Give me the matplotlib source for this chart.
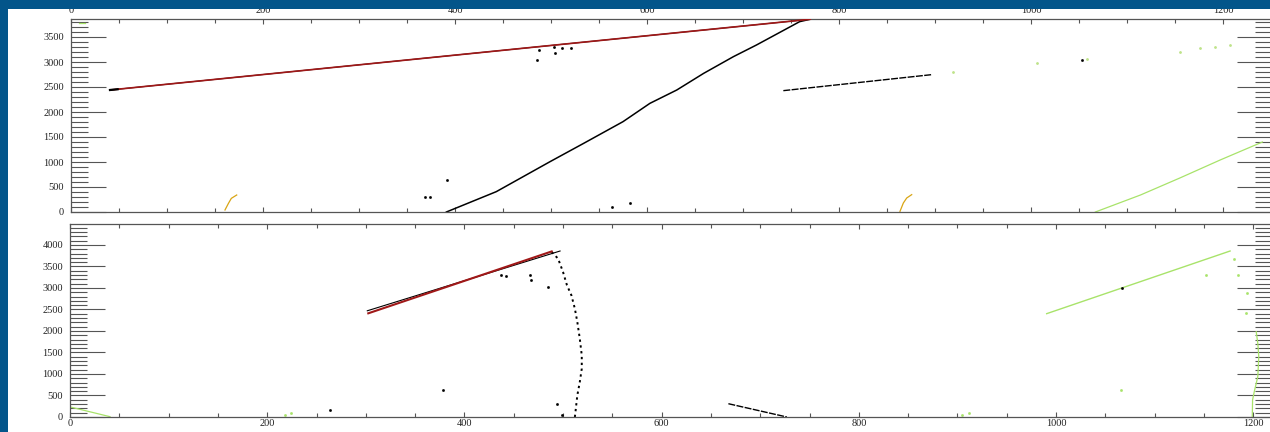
import matplotlib
matplotlib.use('Agg')
import matplotlib.pyplot as plt
from matplotlib.ticker import MultipleLocator
from matplotlib.patches import Rectangle

plt.rcParams['font.family'] = ['Liberation Serif', 'DejaVu Serif']

# ---------------- top panel data ----------------
top_red_x = [40.6, 770]
top_red_y = [2440, 3855]
top_curve_x = [391, 443, 471, 499, 534, 575, 603, 631, 659, 690, 714, 759, 770]
top_curve_y = [0, 407, 707, 1007, 1373, 1807, 2173, 2440, 2773, 3107, 3340, 3807, 3855]
top_seg_x = [742, 896.5]
top_seg_y = [2427, 2747]
top_faint_x = [919, 1006, 1058, 1155, 1176, 1192, 1207]
top_faint_y = [2800, 2980, 3067, 3207, 3273, 3307, 3340]
top_arc1_x = [160.4, 164, 167, 172.6]
top_arc1_y = [40, 173, 273, 340]
top_arc2_x = [863.5, 867, 870.5, 875.7]
top_arc2_y = [13, 180, 280, 347]
top_green_x = [1067, 1114, 1155, 1197, 1241]
top_green_y = [0, 340, 680, 1040, 1400]
top_greentick_x = [8.6, 14.6]
top_greentick_y = [3775, 3775]
top_dots_x = [487, 485, 503, 504, 511, 521, 392, 369, 374, 564, 582, 1053]
top_dots_y = [3240, 3040, 3307, 3187, 3287, 3287, 640, 307, 307, 93, 173, 3047]

# ---------------- bottom panel data ----------------
bot_red_x = [302.5, 488.5]
bot_red_y = [2411, 3850]
bot_black_x = [301.5, 497]
bot_black_y = [2470, 3860]
bot_arc_x = [488.5, 495, 500, 504, 508.5, 512, 514.5, 517, 519, 519, 517, 514.5, 513, 512]
bot_arc_y = [3837, 3682, 3372, 3063, 2830, 2519, 2209, 1821, 1435, 1123, 814, 505, 194, 0]
bot_seg_x = [667.7, 727]
bot_seg_y = [309, 0]
bot_green_x = [990.5, 1176.5]
bot_green_y = [2403, 3860]
bot_edge_x = [1199, 1199.3, 1201, 1204.6, 1205.6, 1204.6, 1203]
bot_edge_y = [7, 395, 589, 937, 1403, 1713, 1984]
bot_left_x = [1.7, 40.6]
bot_left_y = [225, 7]
bot_dots_x = [437.5, 442.5, 466, 468, 485, 493.5, 498.5, 378.7, 263.7, 1066.5]
bot_dots_y = [3295, 3272, 3295, 3179, 3023, 309, 53, 628, 163, 3007]
bot_gdots_x = [1066, 905, 912, 218, 224, 1152, 1185, 1180, 1192.5, 1194]
bot_gdots_y = [632, 40, 100, 47, 100, 3302, 3302, 3667, 2411, 2876]

# ---------------- styles ----------------
BLUE = '#03558a'
RED = '#a01818'
GREEN = '#a8e36a'
GOLD = '#d9a514'
AXC = '#555555'
W, H = 1270, 432

fig = plt.figure(figsize=(12.7, 4.32), dpi=100, facecolor=BLUE)
fig.patches.append(Rectangle((8 / W, 0), 1, 1 - 9 / H, transform=fig.transFigure,
                             facecolor='white', edgecolor='none', zorder=-5))
fig.patches.append(Rectangle((0, 1 - 9 / H), 1, 9 / H, transform=fig.transFigure,
                             facecolor=BLUE, edgecolor='none', zorder=10))
fig.patches.append(Rectangle((0, 0), 8 / W, 1, transform=fig.transFigure,
                             facecolor=BLUE, edgecolor='none', zorder=10))

ax1 = fig.add_axes([71 / W, 1 - 212 / H, (1272 - 71) / W, (212 - 19) / H])
ax2 = fig.add_axes([70 / W, 1 - 417 / H, (1272 - 70) / W, (417 - 224) / H])


def style(ax, xmax, ymax, labeltop):
    ax.set_xlim(0, xmax)
    ax.set_ylim(0, ymax)
    ax.xaxis.set_major_locator(MultipleLocator(200))
    ax.xaxis.set_minor_locator(MultipleLocator(50))
    ax.yaxis.set_major_locator(MultipleLocator(500))
    ax.yaxis.set_minor_locator(MultipleLocator(100))
    for s in ax.spines.values():
        s.set_color(AXC)
        s.set_linewidth(0.9)
    ax.tick_params(axis='x', which='both', direction='in', top=True, bottom=True,
                   labeltop=labeltop, labelbottom=not labeltop, colors=AXC,
                   labelcolor='#222222', labelsize=7.5, width=0.8)
    ax.tick_params(axis='x', which='major', length=3.6, pad=3 if labeltop else 1.5)
    ax.tick_params(axis='x', which='minor', length=2.9)
    ax.tick_params(axis='y', which='both', direction='in', left=True, right=True,
                   labelleft=True, labelright=False, colors=AXC,
                   labelcolor='#222222', labelsize=7.5, width=0.8, pad=5)
    ax.tick_params(axis='y', which='major', length=25.2)
    ax.tick_params(axis='y', which='minor', length=12.2)


style(ax1, 1251, 3860, True)
style(ax2, 1219, 4488, False)

# top panel
ax1.plot(top_red_x, top_red_y, color='black', lw=0.8, zorder=2)
ax1.plot(top_red_x, top_red_y, color=RED, lw=1.2, zorder=3)
ax1.plot(top_red_x[:1] + [top_red_x[0] + 8], [top_red_y[0], top_red_y[0] + 15],
         color='black', lw=1.6, zorder=4)
ax1.plot(top_curve_x, top_curve_y, color='black', lw=1.1)
ax1.plot(top_seg_x, top_seg_y, color='black', lw=1.0, ls=(0, (5, 1)))
ax1.plot(top_faint_x, top_faint_y, color='#bfe38a', lw=0, marker='.', ms=2)
ax1.plot(top_arc1_x, top_arc1_y, color=GOLD, lw=0.9)
ax1.plot(top_arc2_x, top_arc2_y, color=GOLD, lw=0.9)
ax1.plot(top_green_x, top_green_y, color=GREEN, lw=0.9)
ax1.plot(top_greentick_x, top_greentick_y, color=GREEN, lw=0.9)
ax1.plot(top_dots_x, top_dots_y, color='black', lw=0, marker='s', ms=0.9)

# bottom panel
ax2.plot(bot_black_x, bot_black_y, color='black', lw=0.8, zorder=2)
ax2.plot(bot_red_x, bot_red_y, color=RED, lw=1.5, zorder=3)
ax2.plot(bot_arc_x, bot_arc_y, color='black', lw=1.4, ls=(0, (1.2, 1.8)))
ax2.plot(bot_seg_x, bot_seg_y, color='black', lw=1.0, ls=(0, (5, 1)))
ax2.plot(bot_green_x, bot_green_y, color=GREEN, lw=1.0)
ax2.plot(bot_edge_x, bot_edge_y, color=GREEN, lw=0.9)
ax2.plot(bot_left_x, bot_left_y, color=GREEN, lw=0.9)
ax2.plot(bot_dots_x, bot_dots_y, color='black', lw=0, marker='s', ms=0.9)
ax2.plot(bot_gdots_x, bot_gdots_y, color=GREEN, lw=0, marker='s', ms=0.9)

fig.savefig('out.png', dpi=100, facecolor=BLUE)
